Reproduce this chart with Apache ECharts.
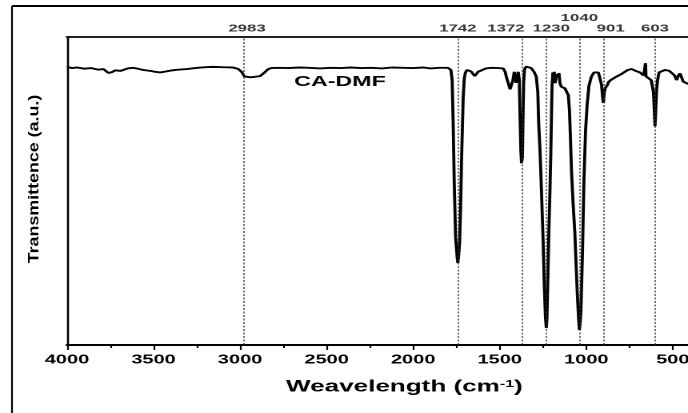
<!DOCTYPE html>
<html>
<head>
<meta charset="utf-8">
<script src="https://cdn.jsdelivr.net/npm/echarts@6/dist/echarts.min.js"></script>
<style>
  html, body { margin: 0; padding: 0; background: #fff; overflow: hidden; }
  #wrap { width: 688px; height: 413px; overflow: hidden; }
  /* the source figure is stretched sideways, so the chart is drawn narrow and widened */
  #chart { width: 430px; height: 413px; transform: scaleX(1.6); transform-origin: 0 0; }
</style>
</head>
<body>
<div id="wrap"><div id="chart"></div></div>
<script>
// FTIR spectrum of CA-DMF
const waveNumbers = [
  4000, 3970, 3940, 3900, 3860, 3820, 3790, 3760, 3740, 3720, 3690, 3650, 3619, 3590, 3560, 3520,
  3490, 3460, 3430, 3400, 3360, 3307, 3260, 3200, 3157, 3100, 3041, 3010, 2990, 2975, 2960, 2940,
  2910, 2885, 2860, 2840, 2820, 2780, 2720, 2660, 2600, 2540, 2480, 2420, 2360, 2300, 2240, 2180,
  2120, 2060, 2000, 1940, 1900, 1850, 1800, 1790, 1782, 1775, 1769, 1763, 1755, 1746, 1742, 1736,
  1732, 1726, 1721, 1716, 1711, 1705, 1699, 1690, 1682, 1665, 1653, 1645, 1636, 1625, 1607, 1580,
  1549, 1510, 1480, 1468, 1462, 1448, 1440, 1433, 1424, 1416, 1410, 1406, 1400, 1393, 1387, 1383,
  1378, 1374, 1372, 1369, 1366, 1362, 1357, 1347, 1335, 1318, 1300, 1289, 1280, 1275, 1268, 1262,
  1256, 1249, 1243, 1236, 1231, 1227, 1222, 1216, 1210, 1205, 1201, 1198, 1193, 1188, 1185, 1180,
  1175, 1170, 1165, 1158, 1152, 1145, 1135, 1123, 1112, 1104, 1097, 1092, 1085, 1075, 1066, 1060,
  1052, 1045, 1040, 1035, 1031, 1027, 1022, 1014, 1008, 1004, 995, 985, 971, 955, 942, 930,
  921, 912, 905, 901, 896, 890, 880, 870, 854, 830, 796, 760, 738, 715, 690, 681,
  668, 661, 658, 655, 640, 625, 612, 606, 603, 599, 594, 588, 580, 566, 546, 520,
  507, 490, 478, 468, 459, 450, 440, 422, 400
]
const transmittance = [
  90.3, 89.9, 90.1, 89.7, 89.9, 89.4, 89.6, 88.3, 88.6, 89.2, 89.0, 89.8, 90.0, 89.7, 89.3, 89.0,
  88.7, 88.5, 88.8, 89.1, 89.4, 89.6, 89.9, 90.2, 90.3, 90.2, 90.1, 89.6, 88.6, 87.2, 86.8, 86.9,
  87.1, 87.3, 88.4, 89.5, 89.9, 90.0, 89.9, 90.1, 90.0, 89.8, 90.0, 89.9, 90.1, 89.9, 90.0, 89.8,
  90.1, 90.0, 89.9, 90.1, 89.8, 90.0, 90.0, 89.7, 89.3, 86.0, 72.0, 53.0, 35.0, 28.5, 26.6, 30.0,
  33.1, 44.8, 59.1, 70.0, 80.5, 86.5, 88.3, 89.3, 89.6, 88.8, 88.2, 87.3, 87.6, 88.7, 89.3, 89.8,
  90.0, 89.9, 89.8, 88.6, 87.1, 84.5, 83.0, 82.6, 86.0, 88.7, 87.0, 85.1, 87.0, 88.7, 86.0, 75.0,
  63.0, 59.0, 58.4, 61.0, 72.0, 85.0, 89.5, 90.4, 90.0, 89.9, 88.5, 87.1, 82.0, 72.0, 64.0, 55.0,
  45.0, 33.1, 20.1, 9.0, 5.5, 9.0, 22.0, 37.3, 50.0, 62.0, 75.0, 84.0, 88.5, 86.0, 88.7, 85.0,
  85.5, 88.0, 87.0, 88.3, 85.0, 83.9, 83.3, 83.3, 82.0, 81.2, 76.0, 68.0, 55.8, 44.8, 36.4, 27.6,
  16.9, 9.0, 4.9, 7.5, 11.0, 19.5, 29.9, 52.6, 63.3, 69.8, 78.0, 84.0, 87.1, 88.5, 89.0, 88.5,
  86.5, 84.5, 80.0, 78.6, 82.0, 83.5, 84.2, 85.5, 86.2, 87.0, 88.0, 89.3, 89.6, 89.0, 88.5, 88.7,
  87.5, 87.1, 91.5, 87.2, 87.0, 86.0, 82.0, 75.0, 71.0, 76.0, 82.8, 86.0, 88.5, 89.0, 89.3, 89.0,
  88.7, 87.5, 86.0, 87.5, 88.2, 87.0, 85.5, 85.1, 84.5
]
const peakPositions = [2983, 1742, 1372, 1230, 1040, 901, 603]

const SX = 1.6 // horizontal stretch of the figure
const FONT = "'Liberation Sans', Arial, sans-serif"
// nudges for the peak labels, in chart units
const peakLabelShift = { 2983: [2.5, 0], 1372: [-10, 0], 1230: [3, 0], 1040: [0, -10.5], 901: [4.5, 0] }

const chart = echarts.init(document.getElementById('chart'), null, { devicePixelRatio: 2 })

const spectrum = waveNumbers.map((w, i) => [w, transmittance[i]])

const option = {
  animation: false,
  grid: {
    left: 67 / SX,
    right: 430 - 759.4 / SX,
    top: 37,
    bottom: 68,
    outerBoundsMode: 'none',
    containLabel: false
  },
  xAxis: [
    {
      type: 'value',
      min: 0,
      max: 4000,
      interval: 500,
      inverse: true,
      position: 'bottom',
      axisLine: { onZero: false, lineStyle: { color: '#000', width: 2 } },
      axisTick: { length: 5, lineStyle: { color: '#000', width: 1.1 } },
      minorTick: { show: true, splitNumber: 2, length: 3, lineStyle: { color: '#000', width: 1.1 } },
      splitLine: { show: false },
      axisLabel: {
        color: '#000',
        fontSize: 12.5,
        fontWeight: 'bold',
        fontFamily: FONT,
        margin: 8.5,
        formatter: (v) => String(v)
      },
      name: '{t|Weavelength (cm}{s|-1}{t|)}',
      nameLocation: 'middle',
      nameGap: 34,
      nameTextStyle: {
        padding: [0, 11, 0, 0],
        rich: {
          t: { fontSize: 16.3, fontWeight: 'bold', fontFamily: FONT, color: '#000' },
          s: { fontSize: 10, fontWeight: 'bold', fontFamily: FONT, color: '#000', verticalAlign: 'top' }
        }
      }
    },
    {
      type: 'value',
      min: 0,
      max: 4000,
      inverse: true,
      position: 'top',
      axisLine: { onZero: false, lineStyle: { color: '#000', width: 1.7 } },
      axisTick: { show: false },
      axisLabel: { show: false },
      splitLine: { show: false }
    }
  ],
  yAxis: {
    type: 'value',
    min: 0,
    max: 100,
    axisLine: { show: true, onZero: false, lineStyle: { color: '#000', width: 1.3 } },
    axisTick: { show: false },
    axisLabel: { show: false },
    splitLine: { show: false }
  },
  series: [
    {
      type: 'line',
      data: spectrum,
      symbol: 'none',
      silent: true,
      lineStyle: { color: '#000', width: 1.9 },
      markLine: {
        silent: true,
        symbol: ['none', 'none'],
        label: { show: false },
        lineStyle: { color: '#333', width: 0.7, type: [2, 1.5] },
        data: peakPositions.map((p) => ({ xAxis: p }))
      }
    },
    {
      type: 'scatter',
      symbolSize: 0,
      clip: false,
      silent: true,
      data: peakPositions.map((p) => ({
        value: [p, 100],
        label: { offset: peakLabelShift[p] || [0, 0] }
      })),
      label: {
        show: true,
        position: 'top',
        distance: 3,
        formatter: (arg) => arg.value[0],
        color: '#000',
        fontSize: 10.5,
        fontWeight: 'bold',
        fontFamily: FONT
      }
    }
  ],
  graphic: [
    { type: 'line', shape: { x1: 12 / SX, y1: 6, x2: 430, y2: 6 }, style: { stroke: '#000', lineWidth: 2 } },
    { type: 'line', shape: { x1: 12 / SX, y1: 6, x2: 12 / SX, y2: 413 }, style: { stroke: '#000', lineWidth: 1.1 } },
    {
      type: 'text',
      x: 340 / SX,
      y: 82,
      style: {
        text: 'CA-DMF',
        fill: '#000',
        fontSize: 14.5,
        fontWeight: 'bold',
        fontFamily: FONT,
        textAlign: 'center',
        textVerticalAlign: 'middle',
        align: 'center',
        verticalAlign: 'middle'
      }
    },
    {
      type: 'text',
      x: 34 / SX,
      y: 179,
      rotation: Math.PI / 2,
      scaleX: 1.16,
      scaleY: 1 / SX,
      style: {
        text: 'Transmittence (a.u.)',
        fill: '#000',
        fontSize: 15.4,
        fontWeight: 'bold',
        fontFamily: FONT,
        textAlign: 'center',
        textVerticalAlign: 'middle',
        align: 'center',
        verticalAlign: 'middle'
      }
    }
  ]
}

chart.setOption(option)
</script>
</body>
</html>
